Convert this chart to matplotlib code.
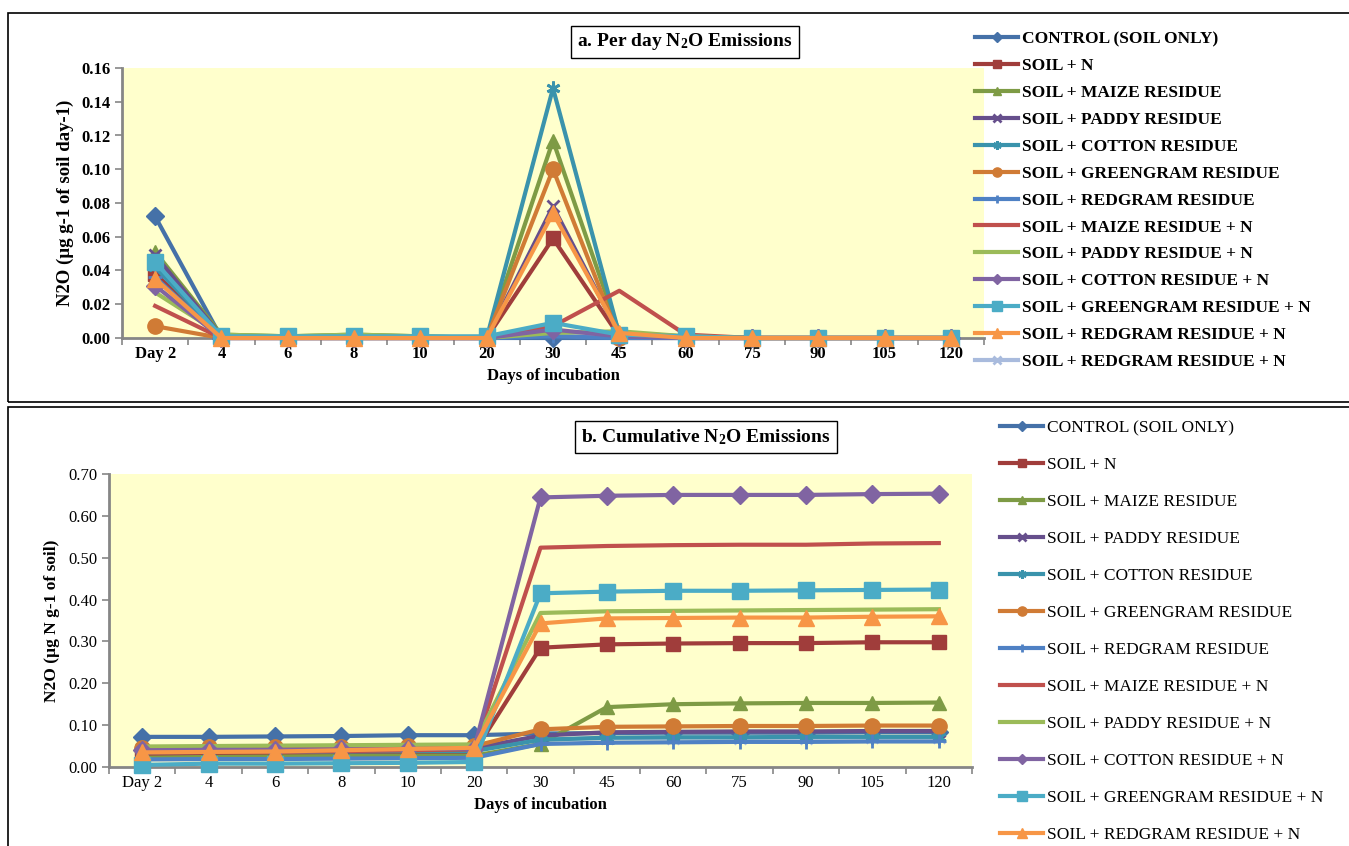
import matplotlib
matplotlib.use("Agg")
import matplotlib.pyplot as plt
from matplotlib.patches import Rectangle

plt.rcParams["font.family"] = ["Liberation Serif", "DejaVu Serif"]
plt.rcParams["mathtext.default"] = "regular"

days = ["Day 2", "4", "6", "8", "10", "20", "30", "45", "60", "75", "90", "105", "120"]

labels = ["CONTROL (SOIL ONLY)", "SOIL + N", "SOIL + MAIZE RESIDUE", "SOIL + PADDY RESIDUE",
          "SOIL + COTTON RESIDUE", "SOIL + GREENGRAM RESIDUE", "SOIL + REDGRAM RESIDUE",
          "SOIL + MAIZE RESIDUE + N", "SOIL + PADDY RESIDUE + N", "SOIL + COTTON RESIDUE + N",
          "SOIL + GREENGRAM RESIDUE + N", "SOIL + REDGRAM RESIDUE + N", "SOIL + REDGRAM RESIDUE + N"]

# a. per day emissions
control_a = [0.072, 0.000, 0.000, 0.000, 0.000, 0.000, 0.000, 0.000, 0.000, 0.000, 0.000, 0.000, 0.000]
soiln_a = [0.038, 0.001, 0.000, 0.000, 0.000, 0.000, 0.059, 0.001, 0.000, 0.000, 0.000, 0.000, 0.000]
maize_a = [0.051, 0.002, 0.001, 0.002, 0.001, 0.000, 0.117, 0.003, 0.001, 0.000, 0.000, 0.000, 0.000]
paddy_a = [0.049, 0.001, 0.000, 0.001, 0.000, 0.000, 0.078, 0.002, 0.000, 0.000, 0.000, 0.000, 0.000]
cotton_a = [0.042, 0.001, 0.000, 0.000, 0.000, 0.000, 0.148, 0.002, 0.000, 0.000, 0.000, 0.000, 0.000]
greengram_a = [0.007, 0.000, 0.000, 0.000, 0.000, 0.000, 0.100, 0.000, 0.000, 0.000, 0.000, 0.000, 0.000]
redgram_a = [0.036, 0.000, 0.000, 0.000, 0.000, 0.000, 0.001, 0.000, 0.000, 0.000, 0.000, 0.000, 0.000]
maizen_a = [0.019, 0.000, 0.000, 0.000, 0.000, 0.000, 0.007, 0.028, 0.002, 0.000, 0.000, 0.000, 0.000]
paddyn_a = [0.027, 0.002, 0.001, 0.002, 0.001, 0.000, 0.003, 0.004, 0.001, 0.000, 0.000, 0.000, 0.000]
cottonn_a = [0.031, 0.000, 0.000, 0.000, 0.000, 0.000, 0.005, 0.001, 0.000, 0.000, 0.000, 0.000, 0.000]
greengramn_a = [0.045, 0.001, 0.001, 0.001, 0.001, 0.001, 0.009, 0.002, 0.001, 0.000, 0.000, 0.000, 0.000]
redgramn_a = [0.035, 0.000, 0.000, 0.000, 0.000, 0.000, 0.074, 0.003, 0.000, 0.000, 0.000, 0.000, 0.000]
redgramn2_a = [0.040, 0.000, 0.000, 0.000, 0.000, 0.000, 0.002, 0.001, 0.000, 0.000, 0.000, 0.000, 0.000]

# b. cumulative emissions
control_b = [0.072, 0.072, 0.073, 0.074, 0.076, 0.076, 0.080, 0.081, 0.082, 0.082, 0.082, 0.083, 0.083]
soiln_b = [0.030, 0.031, 0.031, 0.033, 0.034, 0.035, 0.285, 0.293, 0.295, 0.296, 0.296, 0.298, 0.298]
maize_b = [0.022, 0.024, 0.025, 0.026, 0.027, 0.027, 0.055, 0.143, 0.150, 0.152, 0.153, 0.153, 0.154]
paddy_b = [0.042, 0.043, 0.043, 0.044, 0.045, 0.045, 0.075, 0.083, 0.084, 0.085, 0.085, 0.086, 0.086]
cotton_b = [0.035, 0.036, 0.036, 0.037, 0.038, 0.038, 0.065, 0.070, 0.071, 0.071, 0.072, 0.072, 0.072]
greengram_b = [0.046, 0.047, 0.047, 0.048, 0.049, 0.050, 0.090, 0.096, 0.097, 0.098, 0.098, 0.099, 0.099]
redgram_b = [0.018, 0.019, 0.019, 0.020, 0.021, 0.022, 0.055, 0.058, 0.059, 0.060, 0.060, 0.061, 0.061]
maizen_b = [0.035, 0.036, 0.036, 0.038, 0.040, 0.042, 0.524, 0.528, 0.530, 0.531, 0.531, 0.534, 0.535]
paddyn_b = [0.049, 0.050, 0.051, 0.052, 0.053, 0.054, 0.368, 0.372, 0.373, 0.374, 0.375, 0.376, 0.377]
cottonn_b = [0.040, 0.041, 0.041, 0.042, 0.043, 0.044, 0.644, 0.648, 0.650, 0.650, 0.650, 0.652, 0.653]
greengramn_b = [0.005, 0.008, 0.008, 0.009, 0.010, 0.012, 0.415, 0.419, 0.421, 0.421, 0.422, 0.423, 0.424]
redgramn_b = [0.035, 0.036, 0.037, 0.040, 0.043, 0.046, 0.343, 0.355, 0.356, 0.357, 0.357, 0.359, 0.360]
redgramn2_b = [0.038, 0.039, 0.039, 0.040, 0.041, 0.042, 0.066, 0.069, 0.070, 0.070, 0.070, 0.071, 0.071]

series_a = [control_a, soiln_a, maize_a, paddy_a, cotton_a, greengram_a, redgram_a,
            maizen_a, paddyn_a, cottonn_a, greengramn_a, redgramn_a, redgramn2_a]
series_b = [control_b, soiln_b, maize_b, paddy_b, cotton_b, greengram_b, redgram_b,
            maizen_b, paddyn_b, cottonn_b, greengramn_b, redgramn_b, redgramn2_b]

colors = ["#4571A8", "#A03D3B", "#7E9B45", "#664F8C", "#3A93AC", "#D07B35", "#4F81C4",
          "#C0504D", "#9BBB59", "#8064A2", "#4BACC6", "#F79646", "#A9BBDD"]
markers = ["D", "s", "^", "x", (6, 2, 0), "o", "+", None, None, "D", "s", "^", "x"]
msizes = [9, 10, 10, 9, 10, 11, 10, 0, 0, 9, 11, 11, 9]

fig = plt.figure(figsize=(13.49, 8.46), dpi=100)

# panel borders
fig.patches.append(Rectangle((8 / 1349, 1 - 402 / 846), 1.0, 389 / 846, transform=fig.transFigure,
                             fill=False, ec="black", lw=1.2))
fig.patches.append(Rectangle((8 / 1349, -0.1), 1.0, 1 - 407 / 846 + 0.1, transform=fig.transFigure,
                             fill=False, ec="black", lw=1.2))

ax1 = fig.add_axes([122 / 1349, 1 - 338 / 846, 862 / 1349, 270 / 846])
ax2 = fig.add_axes([109 / 1349, 1 - 767 / 846, 863 / 1349, 293 / 846])

x = list(range(len(days)))

for ax, data, ylim, yticks, bold in [
        (ax1, series_a, 0.16, [i * 0.02 for i in range(9)], True),
        (ax2, series_b, 0.70, [i * 0.10 for i in range(8)], False)]:
    ax.set_facecolor("#FFFFCC")
    for i, (vals, c, m, ms, lab) in enumerate(zip(data, colors, markers, msizes, labels)):
        # the repeated last series sits underneath the others
        z = 1.5 if i == len(data) - 1 else 2 + i * 0.01
        ax.plot(x, vals, color=c, lw=3, marker=m, markersize=ms,
                markeredgewidth=2 if m in ("x", "+", (6, 2, 0)) else 1,
                markeredgecolor=c, label=lab, clip_on=False, zorder=z)
    ax.set_xlim(-0.5, len(days) - 0.5)
    ax.set_ylim(0, ylim)
    ax.set_yticks(yticks)
    ax.set_yticklabels(["%.2f" % t for t in yticks],
                       fontweight="bold" if bold else "normal", fontsize=12)
    ax.set_xticks(x)
    ax.set_xticklabels(days, fontweight="bold" if bold else "normal", fontsize=12)
    ax.set_xticks([i + 0.5 for i in range(-1, len(days))], minor=True)
    ax.tick_params(axis="x", which="major", length=0, pad=6)
    ax.tick_params(axis="x", which="minor", length=5, color="#868686", width=1.2)
    ax.tick_params(axis="y", length=5, color="#868686", width=1.2)
    for s in ["top", "right"]:
        ax.spines[s].set_visible(False)
    for s in ["left", "bottom"]:
        ax.spines[s].set_color("#868686")
        ax.spines[s].set_linewidth(2)
        ax.spines[s].set_zorder(1)
    ax.set_xlabel("Days of incubation", fontweight="bold", fontsize=12, labelpad=4)

ax1.set_ylabel("N2O (µg g-1 of soil day-1)", fontweight="bold", fontsize=13.5, labelpad=5)
ax2.set_ylabel("N2O (µg N g-1 of soil)", fontweight="bold", fontsize=12.5, labelpad=6)

fig.text(685 / 1349, 1 - 42 / 846, "a. Per day N$_2$O Emissions", ha="center", va="center",
         fontsize=14, fontweight="bold",
         bbox=dict(boxstyle="square,pad=0.3", fc="white", ec="black", lw=1))
fig.text(706 / 1349, 1 - 437 / 846, "b. Cumulative N$_2$O Emissions", ha="center", va="center",
         fontsize=14, fontweight="bold",
         bbox=dict(boxstyle="square,pad=0.3", fc="white", ec="black", lw=1))

h1, l1 = ax1.get_legend_handles_labels()
fig.legend(h1, l1, loc="upper left", bbox_to_anchor=(975 / 1349, 1 - 31 / 846), frameon=False,
           prop={"weight": "bold", "size": 12.5}, labelspacing=0.62, handlelength=2.5,
           handletextpad=0.2, borderpad=0, borderaxespad=0, markerscale=0.6)
# the 13th entry of the lower legend falls below the picture edge
h2, l2 = ax2.get_legend_handles_labels()
fig.legend(h2[:12], l2[:12], loc="upper left", bbox_to_anchor=(1000 / 1349, 1 - 420 / 846),
           frameon=False, prop={"size": 12.5}, labelspacing=1.2, handlelength=2.5,
           handletextpad=0.2, borderpad=0, borderaxespad=0, markerscale=0.6)

fig.savefig("out.png", dpi=100)
